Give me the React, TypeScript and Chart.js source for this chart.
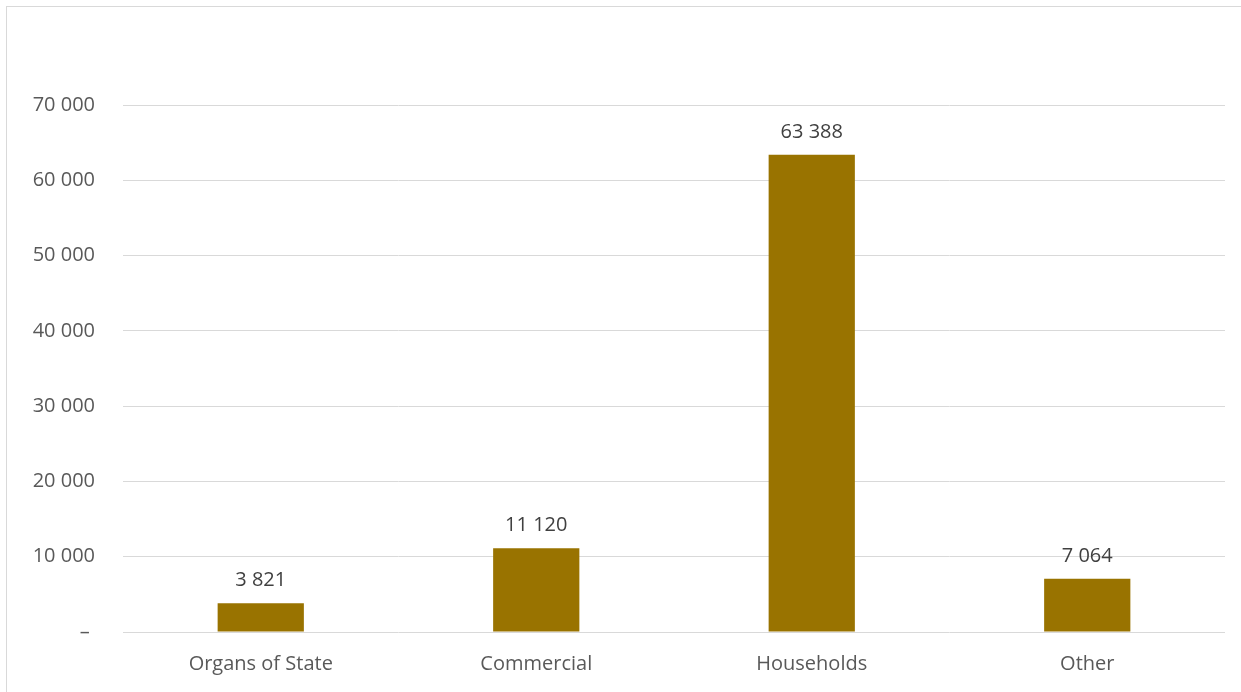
import React, { useEffect, useRef } from "react";
import { Chart, registerables } from "chart.js";

Chart.register(...registerables);

const categories = ["Organs of State", "Commercial", "Households", "Other"];
const values = [3821, 11120, 63388, 7064];
const yTicks = [0, 10000, 20000, 30000, 40000, 50000, 60000, 70000];

const fmt = (v: number) =>
  v === 0 ? "– " : Math.round(v).toString().replace(/\B(?=(\d{3})+(?!\d))/g, " ");

const FONT = "'Open Sans', sans-serif";

const valueLabels = {
  id: "valueLabels",
  afterDatasetsDraw(chart: any) {
    const ctx = chart.ctx;
    const meta = chart.getDatasetMeta(0);
    ctx.save();
    ctx.font = `20px ${FONT}`;
    ctx.fillStyle = "#404040";
    ctx.textAlign = "center";
    ctx.textBaseline = "alphabetic";
    meta.data.forEach((bar: any, i: number) => {
      ctx.fillText(fmt(values[i]), bar.x, bar.y - 17);
    });
    ctx.restore();
  },
};

export default function App() {
  const ref = useRef<HTMLCanvasElement>(null);
  useEffect(() => {
    if (!ref.current) return;
    const chart = new Chart(ref.current, {
      type: "bar",
      data: {
        labels: categories,
        datasets: [
          {
            data: values,
            backgroundColor: "#997300",
            borderWidth: 0,
            categoryPercentage: 1,
            barPercentage: 0.313,
          },
        ],
      },
      options: {
        animation: false,
        responsive: false,
        devicePixelRatio: 1,
        layout: { padding: { top: 105, left: 0, right: 16, bottom: 0 } },
        plugins: { legend: { display: false }, tooltip: { enabled: false } },
        scales: {
          x: {
            afterFit(scale: any) {
              scale.height = 60;
            },
            grid: { display: false, drawTicks: false },
            border: { display: false },
            ticks: {
              color: "#595959",
              font: { family: FONT, size: 20 },
              padding: 20,
              maxRotation: 0,
            },
          },
          y: {
            min: 0,
            max: 70000,
            afterFit(scale: any) {
              scale.width = 123;
            },
            afterBuildTicks(scale: any) {
              scale.ticks = yTicks.map((v) => ({ value: v }));
            },
            grid: { color: "#d9d9d9", lineWidth: 1, drawTicks: false },
            border: { display: false },
            ticks: {
              color: "#595959",
              font: { family: FONT, size: 20 },
              padding: 28,
              callback: (v: any) => fmt(Number(v)),
            },
          },
        },
      },
      plugins: [valueLabels],
    });
    return () => chart.destroy();
  }, []);
  return (
    <div
      style={{
        position: "fixed",
        left: 0,
        top: 0,
        width: 1241,
        height: 692,
        overflow: "hidden",
        background: "#fff",
      }}
    >
      <div
        style={{
          position: "absolute",
          left: 6,
          top: 6,
          width: 1250,
          height: 700,
          border: "1px solid #d9d9d9",
          boxSizing: "border-box",
        }}
      />
      <canvas
        ref={ref}
        width={1241}
        height={692}
        style={{ position: "absolute", left: 0, top: 0 }}
      />
    </div>
  );
}
